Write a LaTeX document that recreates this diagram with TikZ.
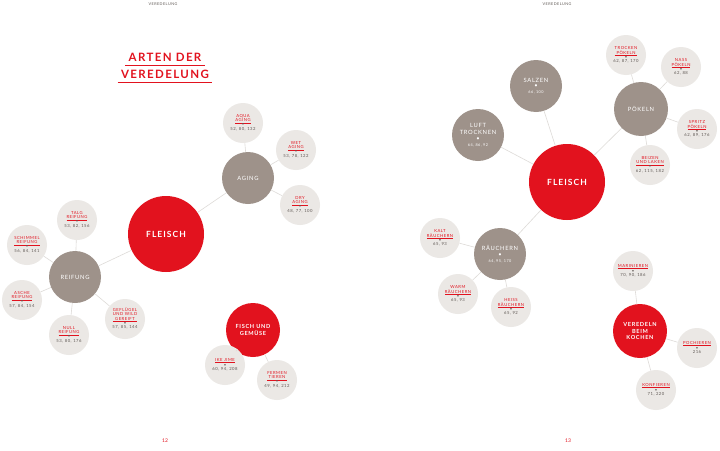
\documentclass[tikz,border=0pt]{standalone}
\usepackage{fontspec}
\setmainfont{Lato}
\newfontfamily\spc[LetterSpace=12]{Lato}
\newfontfamily\spcb[LetterSpace=12]{Lato Bold}
\definecolor{fred}{RGB}{226,18,30}
\definecolor{taupe}{RGB}{158,146,138}
\definecolor{lightc}{RGB}{235,232,229}
\definecolor{linec}{RGB}{222,219,216}
\definecolor{darkt}{RGB}{95,88,84}
\setlength{\arrayrulewidth}{0.35pt}
\newcommand\kidtext[2]{\renewcommand\arraystretch{0.9}\begin{tabular}{@{}c@{}}\color{fred}\begin{tabular}{@{}c@{}}#1\\[-0.6pt]\hline\end{tabular}\\\color{darkt}\textbullet\\\color{darkt}#2\end{tabular}}
\begin{document}
\begin{tikzpicture}[x=1pt,y=-1pt,
  bigred/.style={circle,fill=fred,minimum size=76pt,inner sep=0pt,text=white,align=center,font=\spcb\fontsize{8.5}{10}\selectfont},
  midred/.style={circle,fill=fred,minimum size=54pt,inner sep=0pt,text=white,align=center,font=\spcb\fontsize{5.6}{6.6}\selectfont},
  midgray/.style={circle,fill=taupe,minimum size=52pt,inner sep=0pt,text=white,align=center,font=\spc\fontsize{5.8}{6.8}\selectfont},
  kid/.style={circle,fill=lightc,minimum size=40pt,inner sep=0pt,font=\spc\fontsize{4.2}{4.9}\selectfont},
  conn/.style={draw=linec,line width=0.6pt},
  hdr/.style={font=\spc\fontsize{3.8}{4.5}\selectfont,text=darkt},
  pnum/.style={font=\fontsize{5}{6}\selectfont,text=fred}
]
\useasboundingbox (0,0) rectangle (720,450);
\fill[white] (0,0) rectangle (720,450);

% headers and page numbers
\node[hdr] (h1) at (163,4) {VEREDELUNG};
\node[hdr] (h2) at (557,4) {VEREDELUNG};
\node[pnum] (p1) at (165,441) {12};
\node[pnum] (p2) at (568,441) {13};

% title
\node[font=\spcb\fontsize{11.5}{13}\selectfont,text=fred] (t1) at (165,57) {ARTEN DER};
\node[font=\spcb\fontsize{11.5}{13}\selectfont,text=fred] (t2) at (165,74) {VEREDELUNG};
\draw[fred,line width=0.8pt] ([yshift=-0.5pt]t1.south west) -- ([yshift=-0.5pt]t1.south east);
\draw[fred,line width=0.8pt] ([yshift=-0.5pt]t2.south west) -- ([yshift=-0.5pt]t2.south east);

% ---------- left page ----------
\node[bigred] (fl1) at (166,234) {FLEISCH};
\node[midgray] (aging) at (248,178) {AGING};
\node[kid] (aqua) at (243,123) {\kidtext{AQUA\\AGING}{52, 80, 132}};
\node[kid] (wet) at (296,150) {\kidtext{WET\\AGING}{53, 78, 122}};
\node[kid] (dry) at (300,205) {\kidtext{DRY\\AGING}{48, 77, 100}};

\node[midgray] (reif) at (75,277) {REIFUNG};
\node[kid] (talg) at (77,220) {\kidtext{TALG\\REIFUNG}{53, 82, 156}};
\node[kid] (schim) at (27,245) {\kidtext{SCHIMMEL\\REIFUNG}{56, 84, 141}};
\node[kid] (asche) at (22,300) {\kidtext{ASCHE\\REIFUNG}{57, 84, 154}};
\node[kid] (null) at (69,335) {\kidtext{NULL\\REIFUNG}{53, 80, 176}};
\node[kid] (gefl) at (125,319) {\kidtext{GEFLÜGEL\\UND WILD\\GEREIFT}{57, 85, 144}};

\node[midred] (fisch) at (253,330) {FISCH UND\\GEMÜSE};
\node[kid] (ike) at (225,365) {\kidtext{IKE JIME}{60, 94, 208}};
\node[kid] (ferm) at (277,380) {\kidtext{FERMEN\\TIEREN}{49, 94, 212}};

\draw[conn] (fl1) -- (aging);
\draw[conn] (fl1) -- (reif);
\foreach \k in {aqua,wet,dry} \draw[conn] (aging) -- (\k);
\foreach \k in {talg,schim,asche,null,gefl} \draw[conn] (reif) -- (\k);
\foreach \k in {ike,ferm} \draw[conn] (fisch) -- (\k);

% ---------- right page ----------
\node[bigred] (fl2) at (567,182) {FLEISCH};
\node[midgray] (salz) at (536,86) {SALZEN\\[-1pt]\textbullet\\[-1pt]\fontsize{3.8}{4.5}\selectfont 66, 100};
\node[midgray] (luft) at (478,135) {LUFT\\TROCKNEN\\[-1pt]\textbullet\\[-1pt]\fontsize{3.8}{4.5}\selectfont 64, 86, 92};
\node[midgray,minimum size=54pt] (poek) at (641,109) {PÖKELN};
\node[kid] (trock) at (626,55) {\kidtext{TROCKEN\\PÖKELN}{62, 87, 170}};
\node[kid] (nass) at (681,67) {\kidtext{NASS\\PÖKELN}{62, 88}};
\node[kid] (spritz) at (697,129) {\kidtext{SPRITZ\\PÖKELN}{62, 89, 176}};
\node[kid] (beiz) at (650,165) {\kidtext{BEIZEN\\UND LAKEN}{62, 115, 182}};

\node[midgray] (raeu) at (500,254) {RÄUCHERN\\[-1pt]\textbullet\\[-1pt]\fontsize{3.8}{4.5}\selectfont 64, 95, 170};
\node[kid] (kalt) at (440,238) {\kidtext{KALT\\RÄUCHERN}{65, 93}};
\node[kid] (warm) at (458,294) {\kidtext{WARM\\RÄUCHERN}{65, 93}};
\node[kid] (heiss) at (511,307) {\kidtext{HEISS\\RÄUCHERN}{65, 92}};

\node[midred] (koch) at (640,331) {VEREDELN\\BEIM\\KOCHEN};
\node[kid] (mari) at (633,271) {\kidtext{MARINIEREN}{70, 90, 186}};
\node[kid] (poch) at (697,348) {\kidtext{POCHIEREN}{216}};
\node[kid] (konf) at (656,390) {\kidtext{KONFIEREN}{71, 220}};

\foreach \k in {salz,luft,poek,raeu} \draw[conn] (fl2) -- (\k);
\foreach \k in {trock,nass,spritz,beiz} \draw[conn] (poek) -- (\k);
\foreach \k in {kalt,warm,heiss} \draw[conn] (raeu) -- (\k);
\foreach \k in {mari,poch,konf} \draw[conn] (koch) -- (\k);
\end{tikzpicture}
\end{document}
